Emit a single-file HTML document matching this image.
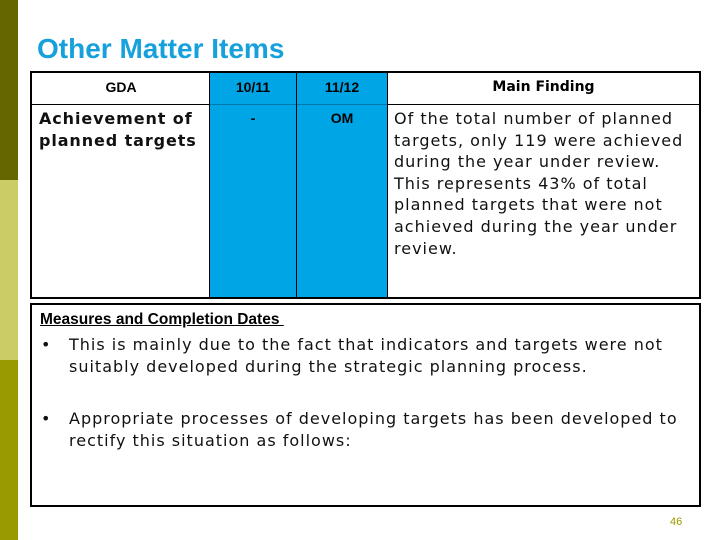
<!DOCTYPE html>
<html><head><meta charset="utf-8"><style>
body{margin:0;width:720px;height:540px;position:relative;background:#fff;overflow:hidden;font-family:"DejaVu Sans","Liberation Sans",sans-serif}
.a{position:absolute}
.bar{left:0;width:18px}
.ar{font-family:"Liberation Sans",Arial,sans-serif}
.ln{position:absolute;background:#000}
.t16{font-size:16px;line-height:21.6px;color:#111;letter-spacing:1px;white-space:nowrap}
</style></head><body>
<div class="a bar" style="top:0;height:180px;background:#666600"></div>
<div class="a bar" style="top:180px;height:180px;background:#cccc66"></div>
<div class="a bar" style="top:360px;height:180px;background:#999900"></div>
<div class="a ar" style="left:37px;top:33px;font-size:28px;font-weight:bold;color:#17a1dc">Other Matter Items</div>

<div class="a" style="left:30px;top:71px;width:667px;height:224px;border:2px solid #000">
  <div class="a" style="left:178px;top:0;width:86px;height:224px;background:#00a5e6"></div>
  <div class="a" style="left:264px;top:0;width:92px;height:224px;background:#00a5e6"></div>
  <div class="ln" style="left:0;top:31px;width:178px;height:1px"></div>
  <div class="ln" style="left:178px;top:31px;width:178px;height:1px;background:#0077aa"></div>
  <div class="ln" style="left:356px;top:31px;width:311px;height:1px"></div>
  <div class="ln" style="left:177px;top:0;width:1px;height:224px"></div>
  <div class="ln" style="left:264px;top:0;width:1px;height:224px"></div>
  <div class="ln" style="left:355px;top:0;width:1px;height:224px"></div>
  <div class="a ar" style="left:0;top:6px;width:178px;text-align:center;font-size:14px;font-weight:bold">GDA</div>
  <div class="a ar" style="left:178px;top:6px;width:86px;text-align:center;font-size:14px;font-weight:bold">10/11</div>
  <div class="a ar" style="left:264px;top:6px;width:92px;text-align:center;font-size:14px;font-weight:bold">11/12</div>
  <div class="a" style="left:356px;top:6px;width:311px;text-align:center;font-size:14px;font-weight:bold">Main Finding</div>
  <div class="a t16" style="left:7px;top:35px;font-weight:bold;letter-spacing:0.9px">Achievement of<br>planned targets</div>
  <div class="a ar" style="left:178px;top:37px;width:86px;text-align:center;font-size:14px;font-weight:bold">-</div>
  <div class="a ar" style="left:264px;top:37px;width:92px;text-align:center;font-size:14px;font-weight:bold">OM</div>
  <div class="a t16" style="left:362px;top:35px">Of the total number of planned<br>targets, only 119 were achieved<br>during the year under review.<br>This represents 43% of total<br>planned targets that were not<br>achieved during the year under<br>review.</div>
</div>

<div class="a" style="left:30px;top:303px;width:667px;height:200px;border:2px solid #000">
  <div class="a ar" style="left:8px;top:6px;font-size:15.5px;font-weight:bold;text-decoration:underline">Measures and Completion Dates&nbsp;</div>
  <div class="a t16" style="left:9px;top:29px">•</div>
  <div class="a t16" style="left:37px;top:29px">This is mainly due to the fact that indicators and targets were not<br>suitably developed during the strategic planning process.</div>
  <div class="a t16" style="left:9px;top:103px">•</div>
  <div class="a t16" style="left:37px;top:103px">Appropriate processes of developing targets has been developed to<br>rectify this situation as follows:</div>
</div>
<div class="a ar" style="left:670px;top:516px;font-size:11px;color:#999900">46</div>
</body></html>
